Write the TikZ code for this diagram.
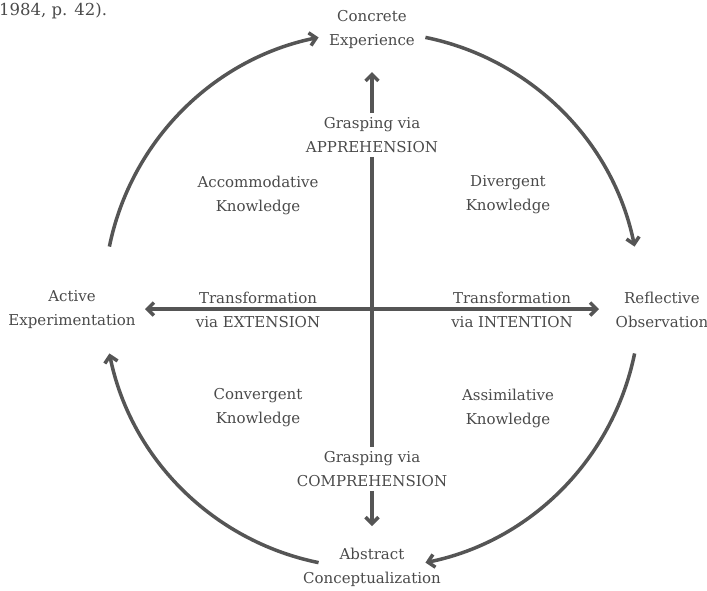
\documentclass[tikz,border=0pt]{standalone}
\usepackage{fontspec}
\setmainfont{DejaVu Serif}
\usetikzlibrary{arrows.meta}
\definecolor{ink}{HTML}{4A4A4A}
\definecolor{stroke}{HTML}{555555}
\begin{document}
\begin{tikzpicture}[x=1pt,y=-1pt,
  lbl/.style={align=center,text=ink,font=\fontsize{15}{24}\selectfont,inner sep=4pt},
  flow/.style={draw=stroke,line width=3.5pt,-{Straight Barb[length=6.5pt,width=13pt]}},
  axis/.style={draw=stroke,line width=3.5pt},
  axisarrow/.style={axis,-{Straight Barb[length=6.5pt,width=13pt]}}]
\useasboundingbox (0,0) rectangle (707,590);

% reference tail
\node[anchor=base west,text=ink,font=\fontsize{16.5}{24}\selectfont,inner sep=0pt] (cite) at (-1,15) {1984, p. 42).};

% the four stages on the cycle
\node[lbl] (ce) at (372,29)  {Concrete\\Experience};
\node[lbl] (ro) at (662,310) {Reflective\\Observation};
\node[lbl] (ac) at (372,567) {Abstract\\Conceptualization};
\node[lbl] (ae) at (72,310)  {Active\\Experimentation};

% grasping and transformation labels
\node[lbl] (gA) at (372,135) {Grasping via\\APPREHENSION};
\node[lbl] (gC) at (372,469) {Grasping via\\COMPREHENSION};
\node[lbl] (tE) at (258,309.5) {Transformation\\via EXTENSION};
\node[lbl] (tI) at (512,309.5) {Transformation\\via INTENTION};

% knowledge forms in the quadrants
\node[lbl] (acc) at (258,195) {Accommodative\\Knowledge};
\node[lbl] (div) at (508,195) {Divergent\\Knowledge};
\node[lbl] (con) at (258,408) {Convergent\\Knowledge};
\node[lbl] (ass) at (508,408) {Assimilative\\Knowledge};

% cycle centre and arc end points
\coordinate (o) at (372,300);
\coordinate (tlS) at ([shift={(191.5:268)}]o);
\coordinate (trS) at ([shift={(281.5:268)}]o);
\coordinate (brS) at ([shift={(11.5:268)}]o);
\coordinate (blS) at ([shift={(101.5:268)}]o);

% axis tips
\coordinate (vTop) at (372,72);
\coordinate (vBot) at (372,526);
\coordinate (hL) at (145,309);
\coordinate (hR) at (599,309);

% learning cycle arcs
\draw[flow] (tlS) arc[start angle=191.5, end angle=258.5, radius=268];
\draw[flow] (trS) arc[start angle=281.5, end angle=348.5, radius=268];
\draw[flow] (brS) arc[start angle=11.5, end angle=78.5, radius=268];
\draw[flow] (blS) arc[start angle=101.5, end angle=168.5, radius=268];

% vertical grasping axis
\draw[axisarrow] (gA.north) -- (vTop);
\draw[axis] (gA.south) -- (gC.north);
\draw[axisarrow] (gC.south) -- (vBot);

% horizontal transformation axis
\draw[axis,{Straight Barb[length=6.5pt,width=13pt]}-{Straight Barb[length=6.5pt,width=13pt]}] (hL) -- (hR);
\end{tikzpicture}
\end{document}
